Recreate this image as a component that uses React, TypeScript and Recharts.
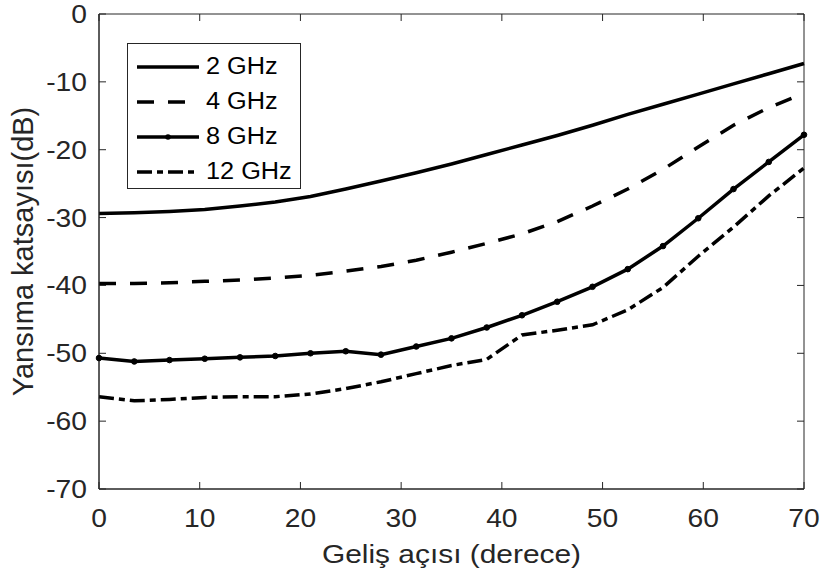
import React from "react";
import { LineChart, Line, XAxis, YAxis, Legend, ReferenceArea } from "recharts";

// incidence angle (deg) and reflection coefficient (dB) per frequency
const angles = [0, 3.5, 7, 10.5, 14, 17.5, 21, 24.5, 28, 31.5, 35, 38.5, 42, 45.5, 49, 52.5, 56, 59.5, 63, 66.5, 70];
const ghz2 = [-29.4, -29.3, -29.1, -28.8, -28.3, -27.7, -26.9, -25.8, -24.6, -23.4, -22.1, -20.7, -19.3, -17.9, -16.4, -14.8, -13.3, -11.8, -10.3, -8.8, -7.3];
const ghz4 = [-39.7, -39.7, -39.6, -39.4, -39.2, -38.9, -38.5, -37.9, -37.2, -36.3, -35.1, -33.8, -32.4, -30.6, -28.3, -25.8, -22.9, -19.6, -16.4, -13.8, -11.7];
const ghz8 = [-50.7, -51.2, -51.0, -50.8, -50.6, -50.4, -50.0, -49.7, -50.2, -49.0, -47.8, -46.2, -44.4, -42.4, -40.2, -37.6, -34.2, -30.1, -25.8, -21.8, -17.8];
const ghz12 = [-56.4, -57.0, -56.8, -56.5, -56.4, -56.4, -56.0, -55.2, -54.2, -53.0, -51.8, -50.9, -47.3, -46.6, -45.8, -43.6, -40.3, -35.7, -31.4, -26.8, -22.7];

const xTicks = [0, 10, 20, 30, 40, 50, 60, 70];
const yTicks = [0, -10, -20, -30, -40, -50, -60, -70];

const SERIES = [
  { key: "g2", name: "2 GHz", values: ghz2, dash: undefined as string | undefined, dot: false },
  { key: "g4", name: "4 GHz", values: ghz4, dash: "17 14", dot: false },
  { key: "g8", name: "8 GHz", values: ghz8, dash: undefined, dot: true },
  { key: "g12", name: "12 GHz", values: ghz12, dash: "15 5 6 5", dot: false },
];

const data = angles.map((a, i) => {
  const row: Record<string, number> = { angle: a };
  SERIES.forEach(s => { row[s.key] = s.values[i]; });
  return row;
});

const W = 822, H = 579;
const MARGIN = { top: 14, right: 18, bottom: 30, left: 39 };
const X_AXIS_H = 60, Y_AXIS_W = 60;
const PLOT_W = W - MARGIN.left - MARGIN.right - Y_AXIS_W;
const PLOT_H = H - MARGIN.top - MARGIN.bottom - X_AXIS_H;

const AXIS = "#262626";
const FONT = "'Liberation Sans', Arial, Helvetica, sans-serif";
const TICK = 7;

// matlab-style inward ticks on all four sides
function BottomTick({ x, y, payload }: any) {
  return (
    <g>
      <line x1={x} y1={y} x2={x} y2={y - TICK} stroke={AXIS} />
      <line x1={x} y1={y - PLOT_H} x2={x} y2={y - PLOT_H + TICK} stroke={AXIS} />
      <text transform={`translate(${x},${y + 38}) scale(1.13,1)`} textAnchor="middle" fontSize={25} fill={AXIS} fontFamily={FONT}>
        {payload.value}
      </text>
    </g>
  );
}

function LeftTick({ x, y, payload }: any) {
  return (
    <g>
      <line x1={x} y1={y} x2={x + TICK} y2={y} stroke={AXIS} />
      <line x1={x + PLOT_W} y1={y} x2={x + PLOT_W - TICK} y2={y} stroke={AXIS} />
      <text transform={`translate(${x - 12},${y + 9}) scale(1.13,1)`} textAnchor="end" fontSize={25} fill={AXIS} fontFamily={FONT}>
        {payload.value}
      </text>
    </g>
  );
}

function XTitle({ viewBox }: any) {
  return (
    <text transform={`translate(${viewBox.x + viewBox.width / 2},${viewBox.y + 74}) scale(1.15,1)`} textAnchor="middle" fontSize={26} fill={AXIS} fontFamily={FONT}>
      Geliş açısı (derece)
    </text>
  );
}

function YTitle({ viewBox }: any) {
  return (
    <text transform={`translate(${viewBox.x - 6},${viewBox.y + viewBox.height / 2}) rotate(-90)`} textAnchor="middle" fontSize={29} fill={AXIS} fontFamily={FONT}>
      Yansıma katsayısı(dB)
    </text>
  );
}

function LegendBox() {
  return (
    <div style={{ width: 174, height: 146, boxSizing: "border-box", border: `1px solid ${AXIS}`, background: "#fff", paddingTop: 5, paddingLeft: 9, fontFamily: FONT }}>
      {SERIES.map(s => (
        <div key={s.key} style={{ display: "flex", alignItems: "center", height: 35 }}>
          <svg width={62} height={10} style={{ display: "block" }}>
            <line x1={0} y1={5} x2={62} y2={5} stroke="#000" strokeWidth={3.5} strokeDasharray={s.dash} />
            {s.dot && <circle cx={31} cy={5} r={2.8} fill="#000" />}
          </svg>
          <span style={{ marginLeft: 7, fontSize: 23, lineHeight: "23px", display: "inline-block", transform: "scaleX(1.1)", transformOrigin: "left center", color: "#000" }}>
            {s.name}
          </span>
        </div>
      ))}
    </div>
  );
}

export default function App() {
  return (
    <div style={{ position: "absolute", left: 0, top: 0, width: W, height: H, background: "#fff", fontFamily: FONT }}>
      <LineChart width={W} height={H} data={data} margin={MARGIN}>
        <XAxis
          dataKey="angle" type="number" domain={[0, 70]} ticks={xTicks} height={X_AXIS_H}
          tickLine={false} tickSize={0} tickMargin={0} tick={<BottomTick />}
          axisLine={{ stroke: AXIS }} label={{ content: XTitle }}
        />
        <YAxis
          type="number" domain={[-70, 0]} ticks={yTicks} width={Y_AXIS_W}
          tickLine={false} tickSize={0} tickMargin={0} tick={<LeftTick />}
          axisLine={{ stroke: AXIS }} label={{ content: YTitle }}
        />
        <ReferenceArea x1={0} x2={70} y1={-70} y2={0} fill="none" fillOpacity={0} stroke={AXIS} strokeWidth={1} ifOverflow="visible" />
        <Legend
          content={LegendBox} layout="horizontal" verticalAlign="middle" align="center"
          wrapperStyle={{ left: 127, top: 43, width: 174, height: 146 }}
        />
        {SERIES.map(s => (
          <Line
            key={s.key} type="linear" dataKey={s.key} name={s.name}
            stroke="#000" strokeWidth={3.5} strokeDasharray={s.dash}
            dot={s.dot ? { r: 2.8, fill: "#000", stroke: "#000", strokeWidth: 1 } : false}
            activeDot={false} isAnimationActive={false}
          />
        ))}
      </LineChart>
    </div>
  );
}
